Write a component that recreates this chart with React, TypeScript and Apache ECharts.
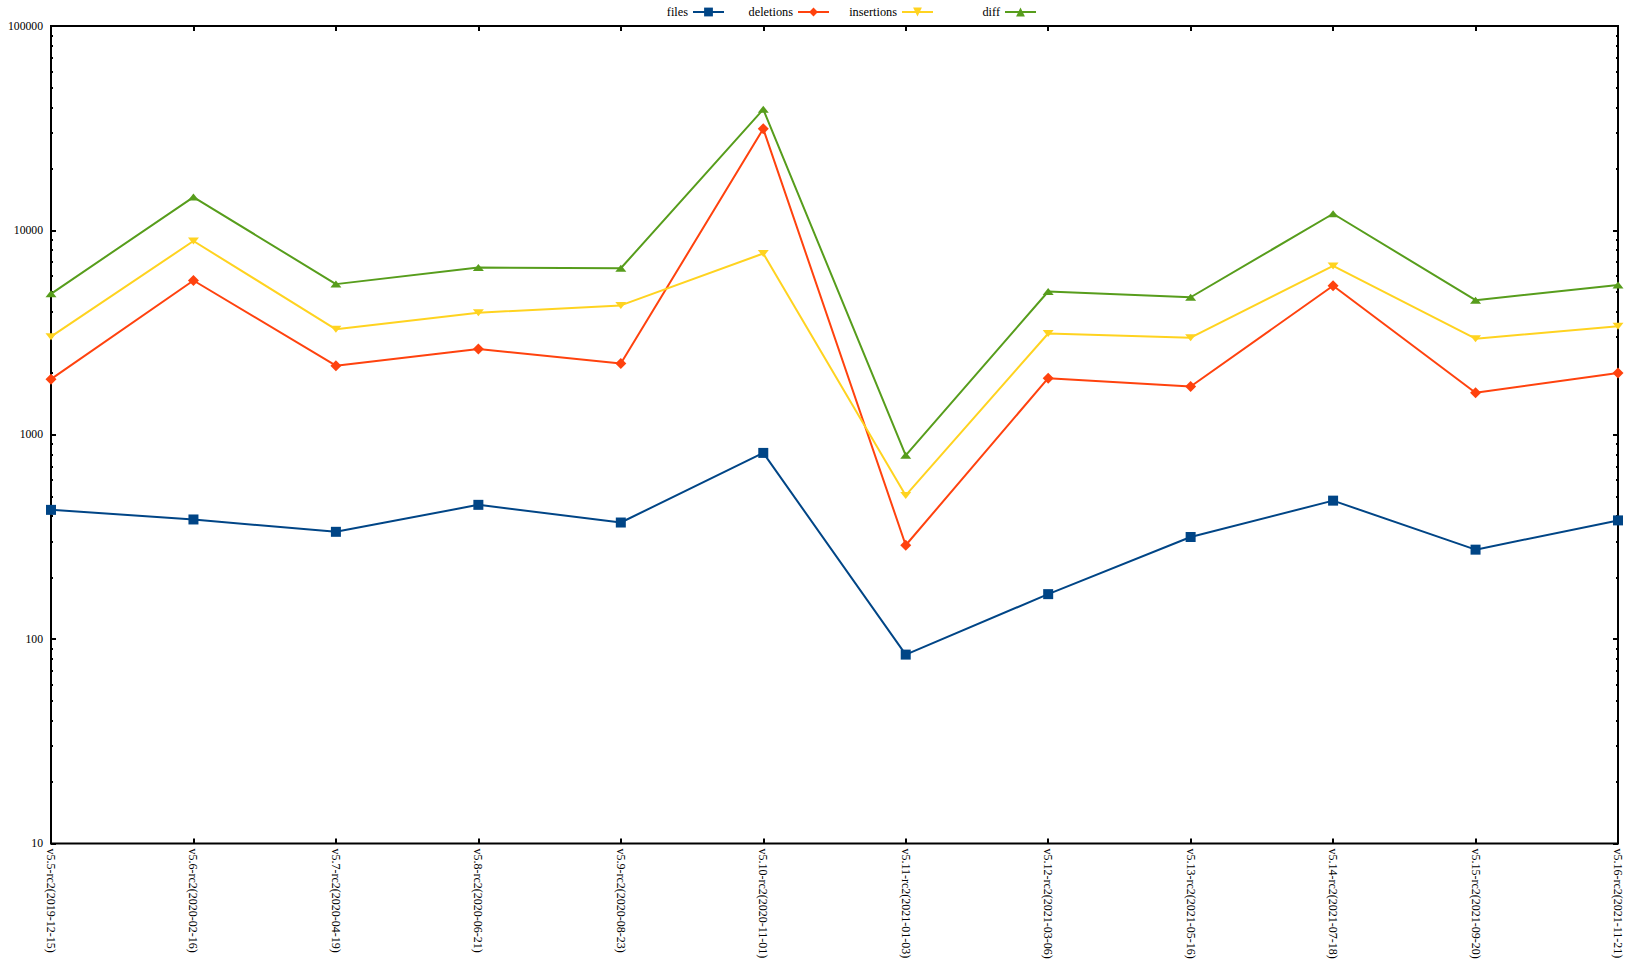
import React, { useEffect, useRef } from "react";
import * as echarts from "echarts";

const categories = [
  "v5.5-rc2(2019-12-15)",
  "v5.6-rc2(2020-02-16)",
  "v5.7-rc2(2020-04-19)",
  "v5.8-rc2(2020-06-21)",
  "v5.9-rc2(2020-08-23)",
  "v5.10-rc2(2020-11-01)",
  "v5.11-rc2(2021-01-03)",
  "v5.12-rc2(2021-03-06)",
  "v5.13-rc2(2021-05-16)",
  "v5.14-rc2(2021-07-18)",
  "v5.15-rc2(2021-09-20)",
  "v5.16-rc2(2021-11-21)",
];

const files = [429, 385, 335, 454, 372, 815, 84, 166, 316, 476, 274, 381];
const deletions = [1871, 5686, 2178, 2626, 2229, 31400, 288, 1892, 1722, 5360, 1606, 2005];
const insertions = [3020, 8870, 3280, 3955, 4295, 7710, 505, 3130, 2985, 6700, 2950, 3400];
const diff = [4891, 14556, 5458, 6581, 6524, 39110, 793, 5022, 4707, 12060, 4556, 5405];

const yMin = 10;
const yMax = 100000;
const majorTicks = [10, 100, 1000, 10000, 100000];
const minorMultipliers = [2, 3, 4, 5, 6, 7, 8, 9];

const FONT = "'Liberation Serif', 'DejaVu Serif', serif";

export default function App() {
  const ref = useRef<HTMLDivElement>(null);

  useEffect(() => {
    if (!ref.current) return;
    const chart = echarts.init(ref.current, undefined, { renderer: "svg" });

    const minorTicks: number[] = [];
    for (let i = 0; i < majorTicks.length - 1; i++) {
      for (const m of minorMultipliers) minorTicks.push(majorTicks[i] * m);
    }

    const baseY = {
      type: "log" as const,
      min: yMin,
      max: yMax,
      logBase: 10,
      splitLine: { show: false },
      axisLine: { show: false },
    };

    const legendItem = (name: string, right: number) => ({
      data: [name],
      top: 1,
      right,
      align: "right" as const,
      itemWidth: 31,
      itemHeight: 11,
      itemGap: 0,
      textStyle: { fontFamily: FONT, fontSize: 12.3, color: "#000" },
    });

    const mk = (
      name: string,
      data: number[],
      color: string,
      symbol: string,
      size: number | number[],
      rotate = 0
    ) => ({
      name,
      type: "line" as const,
      data,
      xAxisIndex: 0,
      yAxisIndex: 0,
      symbol,
      symbolSize: size,
      symbolRotate: rotate,
      showAllSymbol: true,
      lineStyle: { color, width: 2 },
      itemStyle: { color },
      z: 3,
    });

    chart.setOption({
      animation: false,
      backgroundColor: "#ffffff",
      textStyle: { fontFamily: FONT },
      legend: [
        legendItem("files", 897),
        legendItem("deletions", 792),
        legendItem("insertions", 688),
        legendItem("diff", 585),
      ],
      grid: {
        left: 51,
        right: 9,
        top: 26,
        bottom: 129.5,
        show: true,
        borderColor: "#000",
        borderWidth: 2,
        backgroundColor: "transparent",
      },
      xAxis: [
        {
          type: "category",
          data: categories,
          boundaryGap: false,
          position: "bottom",
          axisLine: { show: false },
          axisTick: { show: true, inside: true, length: 5, lineStyle: { color: "#000", width: 2 }, interval: 0 },
          axisLabel: {
            interval: 0,
            rotate: -90,
            margin: 5,
            fontFamily: FONT,
            fontSize: 12,
            color: "#000",
          },
          splitLine: { show: false },
        },
        {
          type: "category",
          data: categories,
          boundaryGap: false,
          position: "top",
          axisLine: { show: false },
          axisTick: { show: true, inside: true, length: 5, lineStyle: { color: "#000", width: 2 }, interval: 0 },
          axisLabel: { show: false },
          splitLine: { show: false },
        },
      ],
      yAxis: [
        {
          ...baseY,
          position: "left",
          axisTick: { show: true, inside: true, length: 5, lineStyle: { color: "#000", width: 2 } },
          axisLabel: {
            show: true,
            margin: 8,
            fontFamily: FONT,
            fontSize: 11.7,
            color: "#000",
            customValues: majorTicks,
            formatter: (v: number) => String(Math.round(v)),
          },
        },
        {
          ...baseY,
          position: "left",
          axisTick: {
            show: true,
            inside: true,
            length: 2,
            lineStyle: { color: "#000", width: 2 },
            customValues: minorTicks,
          },
          axisLabel: { show: false },
        },
        {
          ...baseY,
          position: "right",
          axisTick: { show: true, inside: true, length: 5, lineStyle: { color: "#000", width: 2 } },
          axisLabel: { show: false },
        },
        {
          ...baseY,
          position: "right",
          axisTick: {
            show: true,
            inside: true,
            length: 2,
            lineStyle: { color: "#000", width: 2 },
            customValues: minorTicks,
          },
          axisLabel: { show: false },
        },
      ],
      series: [
        mk("files", files, "#004586", "rect", 10),
        mk("deletions", deletions, "#ff420e", "diamond", [11, 11]),
        mk("insertions", insertions, "#ffd320", "triangle", [11, 7], 180),
        mk("diff", diff, "#579d1c", "triangle", [11, 7]),
      ],
    });

    return () => chart.dispose();
  }, []);

  return (
    <div
      ref={ref}
      style={{ position: "fixed", left: 0, top: 0, width: 1627, height: 973, background: "#fff" }}
    />
  );
}
